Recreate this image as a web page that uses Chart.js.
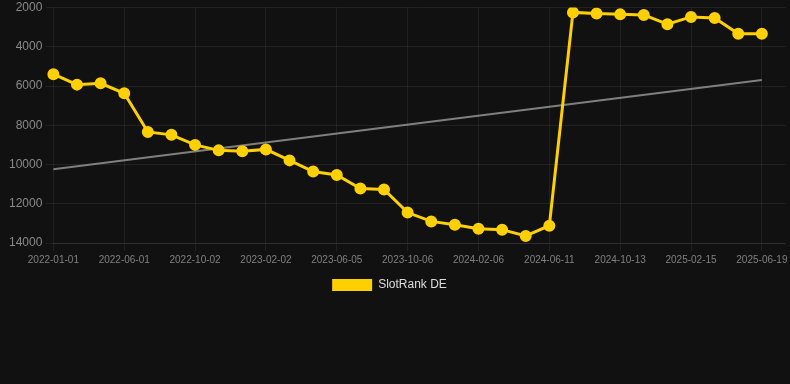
<!DOCTYPE html>
<html>
<head>
<meta charset="utf-8">
<script src="https://cdn.jsdelivr.net/npm/chart.js@4.4.1/dist/chart.umd.min.js"></script>
<style>
    html, body { margin: 0; padding: 0; background: #111111; overflow: hidden; }
    #wrap { position: relative; width: 793px; height: 301px; }
</style>
</head>
<body>
<div id="wrap"><canvas id="myChart"></canvas></div>
<script>
// x 軸日期 (最後一格為空白)
const labels = [
    "2022-01-01", "2022-02-20", "2022-04-11", "2022-06-01", "2022-07-12", "2022-08-22",
    "2022-10-02", "2022-11-12", "2022-12-23", "2023-02-02", "2023-03-15", "2023-04-25",
    "2023-06-05", "2023-07-16", "2023-08-26", "2023-10-06", "2023-11-16", "2023-12-27",
    "2024-02-06", "2024-03-18", "2024-04-30", "2024-06-11", "2024-07-22", "2024-09-01",
    "2024-10-13", "2024-11-23", "2025-01-04", "2025-02-15", "2025-03-28", "2025-05-08",
    "2025-06-19", ""
];
const rankDE = [
    5400, 5930, 5860, 6370, 8340, 8490, 9000, 9280, 9320, 9230,
    9790, 10360, 10530, 11220, 11270, 12450, 12900, 13070, 13270, 13320,
    13640, 13120, 2250, 2310, 2350, 2380, 2850, 2480, 2530, 3340,
    3340, null
];
// trend line: only the two ends
const trendLine = [10240].concat(new Array(29).fill(null), [5700, null]);
const yTicks = [2000, 14000, 2000]; // min, max, step

const gridColor = "rgba(255, 255, 255, 0.07)";

Chart.defaults.font.family = 'Arial, "Liberation Sans", Helvetica, sans-serif';

const data = {
    labels: labels,
    datasets: [
        {
            label: "SlotRank DE",
            data: rankDE,
            borderColor: "#FFD000",
            backgroundColor: "#FFD000",
            pointBackgroundColor: "#FFD000",
            pointBorderColor: "#FFD000",
            borderWidth: 3,
            pointRadius: 4.5,
            tension: 0,
        },
        {
            label: "trend",
            data: trendLine,
            borderColor: "rgba(140, 140, 140, 0.9)",
            borderWidth: 2,
            pointRadius: 0,
            spanGaps: true,
        },
    ],
};

const config = {
    type: "line",
    data: data,
    options: {
        responsive: true,
        maintainAspectRatio: false,
        animation: false,
        layout: { padding: { left: 6, right: 0 } },
        plugins: {
            legend: {
                position: "bottom",
                labels: {
                    color: "#dddddd",
                    font: { size: 12 },
                    boxWidth: 40,
                    filter: (item) => item.text.trim() !== "trend",
                    generateLabels: (chart) => {
                        var items = Chart.defaults.plugins.legend.labels.generateLabels(chart);
                        items.forEach((it) => {
                            it.lineWidth = 0;
                            // trailing spaces nudge the centred legend to the left
                            it.text = it.text + "      ";
                        });
                        return items;
                    }
                }
            },
            tooltip: { enabled: false }
        },
        scales: {
            x: {
                afterFit: (scale) => { scale.paddingRight = 0; },
                grid: {
                    color: (ctx) => (ctx.index % 3 === 0 && ctx.index < 31 ? gridColor : "transparent"),
                },
                border: { color: gridColor },
                ticks: {
                    color: "#808080",
                    font: { size: 10 },
                    autoSkip: false,
                    maxRotation: 0,
                    callback: function (val, i) {
                        return i % 3 === 0 ? this.getLabelForValue(val) : "";
                    }
                }
            },
            y: {
                reverse: true,
                min: yTicks[0],
                max: yTicks[1],
                afterFit: (scale) => { scale.paddingTop = 4.5; },
                grid: { color: gridColor },
                border: { display: false },
                ticks: {
                    stepSize: yTicks[2],
                    color: "#8a8a8a",
                    font: { size: 12 },
                    callback: (v) => String(v),
                }
            }
        }
    }
};
new Chart(document.getElementById('myChart'), config);
</script>
</body>
</html>
